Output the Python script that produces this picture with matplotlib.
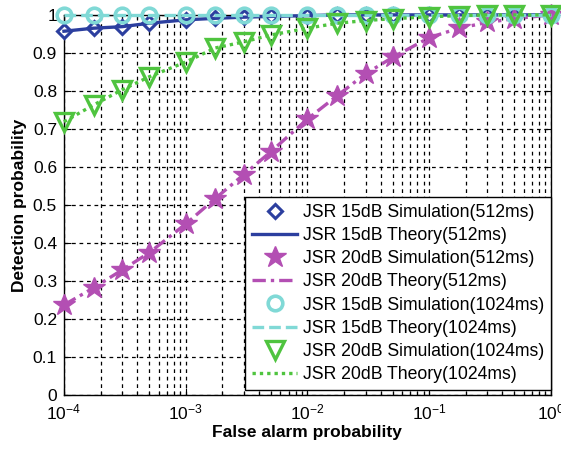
import matplotlib
matplotlib.use("Agg")
import matplotlib.pyplot as plt
from matplotlib.ticker import LogLocator

plt.rcParams['font.family'] = ['Liberation Sans', 'DejaVu Sans']
plt.rcParams['mathtext.fontset'] = 'custom'
plt.rcParams['mathtext.rm'] = 'Liberation Sans'
plt.rcParams['mathtext.it'] = 'Liberation Sans'

# False alarm probabilities at which detection was evaluated
pfa = [1e-4, 1.75e-4, 3e-4, 5e-4,
       1e-3, 1.75e-3, 3e-3, 5e-3,
       1e-2, 1.75e-2, 3e-2, 5e-2,
       1e-1, 1.75e-1, 3e-1, 5e-1, 1.0]

# Detection probabilities
pd_15_512 = [0.957, 0.965, 0.969, 0.978, 0.987, 0.991, 0.994, 0.996,
             0.998, 1.0, 1.0, 1.0, 1.0, 1.0, 1.0, 1.0, 1.0]
pd_20_512 = [0.237, 0.282, 0.329, 0.374, 0.450, 0.517, 0.580, 0.640,
             0.726, 0.787, 0.845, 0.888, 0.940, 0.965, 0.980, 0.990, 1.0]
pd_15_1024 = [1.0] * 17
pd_20_1024 = [0.719, 0.763, 0.803, 0.837, 0.876, 0.913, 0.929, 0.947,
              0.965, 0.978, 0.985, 0.990, 0.995, 0.998, 1.0, 1.0, 1.0]

y_ticks = [0, 0.1, 0.2, 0.3, 0.4, 0.5, 0.6, 0.7, 0.8, 0.9, 1.0]
y_ticklabels = ['0', '0.1', '0.2', '0.3', '0.4', '0.5', '0.6', '0.7',
                '0.8', '0.9', '1']

labels = ['JSR 15dB Simulation(512ms)', 'JSR 15dB Theory(512ms)',
          'JSR 20dB Simulation(512ms)', 'JSR 20dB Theory(512ms)',
          'JSR 15dB Simulation(1024ms)', 'JSR 15dB Theory(1024ms)',
          'JSR 20dB Simulation(1024ms)', 'JSR 20dB Theory(1024ms)']

blue = '#2c3f9f'
pink = '#b34fb3'
cyan = '#80d9d6'
green = '#4fc43f'

fig = plt.figure(figsize=(5.61, 4.51), dpi=100)
ax = fig.add_axes([0.114, 0.124, 0.868, 0.843])

lw = 2.4
ax.plot(pfa, pd_15_512, linestyle='none', marker='D', ms=7.5, mfc='white',
        mec=blue, mew=2.2, label=labels[0], clip_on=False, zorder=3)
ax.plot(pfa, pd_15_512, '-', color=blue, lw=lw, label=labels[1],
        clip_on=False, zorder=3)
ax.plot(pfa, pd_20_512, linestyle='none', marker='*', ms=16.5, color=pink,
        mec=pink, label=labels[2], clip_on=False, zorder=4)
ax.plot(pfa, pd_20_512, linestyle=(0, (4, 1.5, 1, 1.5)), color=pink, lw=lw,
        label=labels[3], clip_on=False, zorder=4)
ax.plot(pfa, pd_15_1024, linestyle='none', marker='o', ms=10.5, mfc='none',
        mec=cyan, mew=2.6, label=labels[4], clip_on=False, zorder=5)
ax.plot(pfa, pd_15_1024, linestyle=(0, (3.5, 1.5)), color=cyan, lw=lw,
        label=labels[5], clip_on=False, zorder=5)
ax.plot(pfa, pd_20_1024, linestyle='none', marker='v', ms=12.5, mfc='none',
        mec=green, mew=2.4, label=labels[6], clip_on=False, zorder=6)
ax.plot(pfa, pd_20_1024, linestyle=(0, (1, 1.2)), color=green, lw=lw,
        label=labels[7], clip_on=False, zorder=6)

ax.set_xscale('log')
ax.set_xlim(1e-4, 1)
ax.set_ylim(0, 1)
ax.xaxis.set_major_locator(LogLocator(base=10, numticks=10))
ax.xaxis.set_minor_locator(LogLocator(base=10, subs=range(2, 10), numticks=20))
ax.set_yticks(y_ticks)
ax.set_yticklabels(y_ticklabels)

grid_kw = dict(color='black', linestyle=(0, (3, 3)), linewidth=0.9)
ax.grid(True, which='major', axis='both', **grid_kw)
ax.grid(True, which='minor', axis='x', **grid_kw)
ax.set_axisbelow(True)

ax.tick_params(which='both', direction='in', top=True, right=True,
               labelsize=12.5, width=0.8)
ax.tick_params(which='major', length=5, pad=5)
ax.tick_params(which='minor', length=3)
for s in ax.spines.values():
    s.set_linewidth(1.0)

ax.set_xlabel('False alarm probability', fontsize=12.5, fontweight='bold',
              labelpad=2)
ax.set_ylabel('Detection probability', fontsize=12.5, fontweight='bold',
              labelpad=4)

leg = ax.legend(loc='lower right', bbox_to_anchor=(1.0, 0.013),
                fontsize=12.7, frameon=True, fancybox=False,
                edgecolor='black', framealpha=1, borderaxespad=0,
                handlelength=2.55, handletextpad=0.3, labelspacing=0.35,
                borderpad=0.4)
leg.get_frame().set_linewidth(1.0)
leg.set_zorder(10)

fig.savefig('out.png', dpi=100)
